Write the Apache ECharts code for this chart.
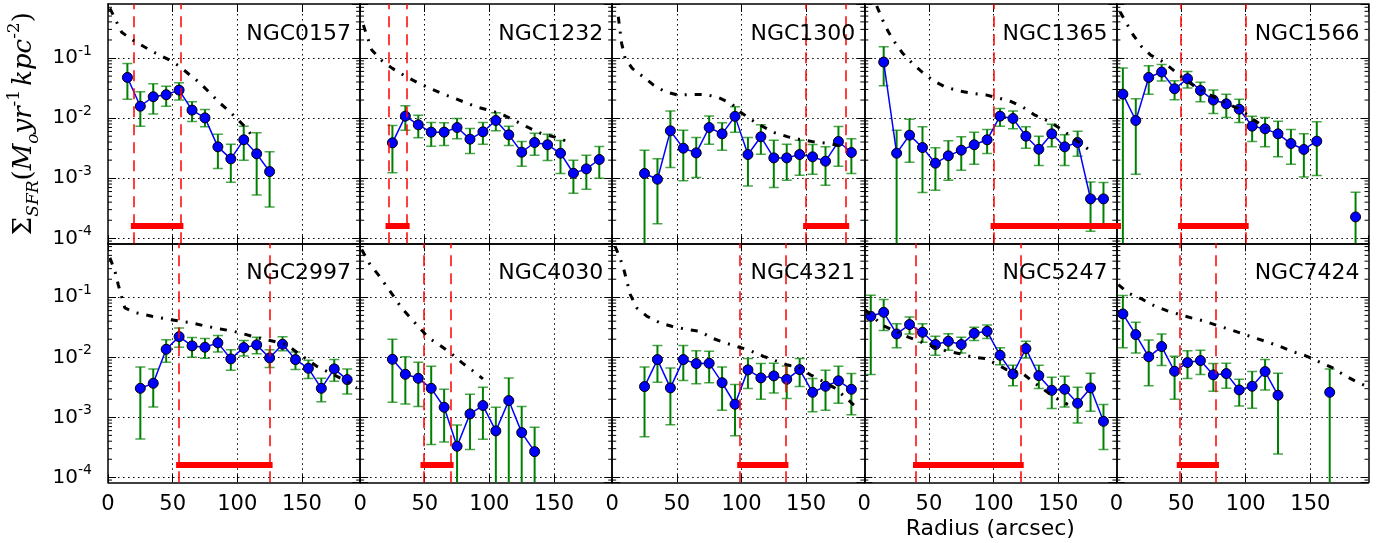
<!DOCTYPE html>
<html><head><meta charset="utf-8">
<script src="https://cdn.jsdelivr.net/npm/echarts@6/dist/echarts.min.js"></script>
<style>html,body{margin:0;padding:0;background:#fff}#c{width:1389px;height:543px}</style>
</head><body><div id="c"></div>
<script>
// ---------------- data ----------------
const names = ['NGC0157','NGC1232','NGC1300','NGC1365','NGC1566','NGC2997','NGC4030','NGC4321','NGC5247','NGC7424'];
const xTicks = [0, 50, 100, 150];
const minorMantissas = [2,3,4,5,6,7,8,9];
const minorDecades = [1e-5,1e-4,1e-3,1e-2,1e-1];

const r0157 = [15,25,35,45,55,65,75,85,95,105,115,125];
const s0157 = [4.76e-2,1.58e-2,2.27e-2,2.45e-2,2.93e-2,1.36e-2,1.01e-2,3.33e-3,2.10e-3,4.36e-3,2.55e-3,1.29e-3];
const hi0157 = [8.15e-2,2.75e-2,3.73e-2,3.41e-2,3.88e-2,1.87e-2,1.39e-2,5.41e-3,3.69e-3,7.36e-3,5.70e-3,2.75e-3];
const lo0157 = [2.07e-2,7.36e-3,1.17e-2,1.58e-2,2.0e-2,8.79e-3,7.18e-3,1.45e-3,8.57e-4,2.0e-3,5.27e-4,3.33e-4];

const r1232 = [25,35,45,55,65,75,85,95,105,115,125,135,145,155,165,175,185];
const s1232 = [3.88e-3,1.08e-2,7.74e-3,5.85e-3,5.85e-3,6.98e-3,4.47e-3,5.92e-3,9.14e-3,5.27e-3,2.71e-3,3.93e-3,3.60e-3,2.61e-3,1.21e-3,1.43e-3,2.05e-3];
const hi1232 = [7.55e-3,1.61e-2,1.12e-2,8.47e-3,8.36e-3,9.86e-3,6.73e-3,8.47e-3,1.23e-2,7.36e-3,4.08e-3,5.62e-3,5.41e-3,4.25e-3,2.0e-3,2.42e-3,3.37e-3];
const lo1232 = [1.23e-3,6.31e-3,4.70e-3,3.41e-3,3.50e-3,4.53e-3,2.58e-3,3.69e-3,6.15e-3,3.50e-3,1.58e-3,2.42e-3,1.97e-3,1.20e-3,5.62e-4,6.56e-4,1.0e-3];

const r1300 = [25,35,45,55,65,75,85,95,105,115,125,135,145,155,165,175,185];
const s1300 = [1.20e-3,9.62e-4,6.15e-3,3.16e-3,2.64e-3,6.98e-3,5.48e-3,1.07e-2,2.48e-3,4.89e-3,2.18e-3,2.18e-3,2.48e-3,2.27e-3,1.92e-3,4.08e-3,2.68e-3];
const hi1300 = [2.93e-3,2.10e-3,1.32e-2,6.31e-3,4.76e-3,1.09e-2,8.36e-3,1.55e-2,4.76e-3,7.74e-3,4.30e-3,3.69e-3,4.30e-3,3.64e-3,3.33e-3,7.26e-3,4.53e-3];
const lo1300 = [0,1.75e-4,1.51e-3,9.04e-4,1.03e-3,3.69e-3,2.93e-3,5.85e-3,7.45e-4,2.51e-3,6.98e-4,9.27e-4,1.12e-3,1.17e-3,7.64e-4,1.58e-3,1.20e-3];

const r1365 = [15,25,35,45,55,65,75,85,95,105,115,125,135,145,155,165,175,185];
const s1365 = [8.57e-2,2.61e-3,5.21e-3,3.24e-3,1.78e-3,2.36e-3,2.93e-3,3.60e-3,4.36e-3,1.08e-2,9.86e-3,5.01e-3,3.04e-3,5.48e-3,3.33e-3,3.93e-3,4.53e-4,4.53e-4];
const hi1365 = [1.54e-1,6.31e-3,9.62e-3,7.18e-3,3.21e-3,4.19e-3,4.89e-3,5.85e-3,6.47e-3,1.45e-2,1.32e-2,7.18e-3,5.01e-3,7.94e-3,5.27e-3,6.07e-3,8.69e-4,8.47e-4];
const lo1365 = [3.46e-2,0,1.85e-3,5.77e-4,6.31e-4,9.27e-4,1.36e-3,1.71e-3,2.58e-3,7.36e-3,6.64e-3,3.16e-3,1.63e-3,3.33e-3,1.63e-3,2.33e-3,1.31e-4,1.66e-4];

const r1566 = [5,15,25,35,45,55,65,75,85,95,105,115,125,135,145,155,165,175,185];
const s1566 = [2.51e-2,9.14e-3,4.76e-2,5.85e-2,3.08e-2,4.53e-2,2.89e-2,2.0e-2,1.73e-2,1.41e-2,7.36e-3,6.64e-3,5.48e-3,3.78e-3,3.01e-3,4.14e-3,null,null,2.27e-4];
const hi1566 = [6.81e-2,2.10e-2,7.45e-2,7.85e-2,4.19e-2,6.0e-2,3.94e-2,2.93e-2,2.51e-2,2.07e-2,1.08e-2,1.03e-2,8.91e-3,6.47e-3,5.48e-3,8.69e-3,null,null,5.85e-4];
const lo1566 = [0,1.17e-3,2.51e-2,4.14e-2,2.02e-2,3.16e-2,1.87e-2,1.20e-2,1.03e-2,8.47e-3,4.08e-3,3.33e-3,2.27e-3,1.71e-3,1.05e-3,1.11e-3,null,null,0];

const r2997 = [25,35,45,55,65,75,85,95,105,115,125,135,145,155,165,175,185];
const s2997 = [3.04e-3,3.69e-3,1.36e-2,2.21e-2,1.55e-2,1.47e-2,1.74e-2,9.40e-3,1.45e-2,1.61e-2,9.77e-3,1.65e-2,9.16e-3,6.56e-3,3.04e-3,6.41e-3,4.25e-3];
const hi2997 = [6.92e-3,6.41e-3,1.97e-2,3.09e-2,2.13e-2,2.05e-2,2.30e-2,1.33e-2,1.90e-2,2.15e-2,1.34e-2,2.19e-2,1.23e-2,8.91e-3,4.47e-3,9.16e-3,6.41e-3];
const lo2997 = [4.37e-4,1.49e-3,8.26e-3,1.47e-2,1.0e-2,9.62e-3,1.23e-2,6.07e-3,1.05e-2,1.15e-2,6.73e-3,1.28e-2,6.24e-3,4.42e-3,1.81e-3,3.98e-3,2.45e-3];

const r4030 = [25,35,45,55,65,75,85,95,105,115,125,135];
const s4030 = [9.27e-3,5.21e-3,4.47e-3,3.04e-3,1.47e-3,3.29e-4,1.14e-3,1.57e-3,5.93e-4,1.90e-3,5.56e-4,2.68e-4];
const hi4030 = [2.0e-2,1.02e-2,8.26e-3,7.08e-3,2.93e-3,7.46e-4,2.42e-3,3.16e-3,1.47e-3,4.54e-3,1.51e-3,6.81e-4];
const lo4030 = [1.78e-3,1.67e-3,1.51e-3,3.51e-4,3.89e-4,0,2.90e-4,4.30e-4,0,0,0,0];

const r4321 = [25,35,45,55,65,75,85,95,105,115,125,135,145,155,165,175,185];
const s4321 = [3.25e-3,9.16e-3,3.09e-3,9.16e-3,7.85e-3,7.94e-3,3.78e-3,1.65e-3,6.17e-3,4.54e-3,4.90e-3,4.30e-3,6.24e-3,2.61e-3,3.29e-3,4.05e-3,2.93e-3];
const hi4321 = [6.92e-3,1.58e-2,6.65e-3,1.58e-2,1.29e-2,1.26e-2,6.92e-3,3.51e-3,9.51e-3,7.85e-3,7.94e-3,7.19e-3,9.51e-3,4.42e-3,6.07e-3,7.08e-3,5.35e-3];
const lo4321 = [4.76e-4,3.83e-3,7.55e-4,4.09e-3,3.61e-3,3.78e-3,1.31e-3,4.95e-4,3.01e-3,2.0e-3,2.55e-3,2.05e-3,3.25e-3,1.24e-3,1.31e-3,1.71e-3,1.10e-3];

const r5247 = [5,15,25,35,45,55,65,75,85,95,105,115,125,135,145,155,165,175,185];
const s5247 = [4.82e-2,5.62e-2,2.45e-2,3.51e-2,2.61e-2,1.63e-2,1.85e-2,1.63e-2,2.51e-2,2.71e-2,1.08e-2,5.28e-3,1.40e-2,4.95e-3,2.82e-3,2.93e-3,1.71e-3,3.09e-3,8.57e-4];
const hi5247 = [1.08e-1,9.16e-2,3.61e-2,4.71e-2,3.61e-2,2.24e-2,2.48e-2,2.15e-2,3.16e-2,3.47e-2,1.44e-2,7.36e-3,1.85e-2,7.36e-3,4.65e-3,4.82e-3,3.16e-3,5.41e-3,1.63e-3];
const lo5247 = [5.15e-3,2.79e-2,1.44e-2,2.45e-2,1.78e-2,1.08e-2,1.31e-2,1.18e-2,1.90e-2,2.05e-2,7.55e-3,3.37e-3,9.77e-3,3.01e-3,1.40e-3,1.49e-3,8.07e-4,1.26e-3,2.90e-4];

const r7424 = [5,15,25,35,45,55,65,75,85,95,105,115,125,135,145,155,165];
const s7424 = [5.28e-2,2.39e-2,1.02e-2,1.51e-2,5.85e-3,8.17e-3,8.81e-3,5.09e-3,5.35e-3,2.86e-3,3.29e-3,5.78e-3,2.33e-3,null,null,null,2.61e-3];
const hi7424 = [1.07e-1,3.83e-2,1.95e-2,2.45e-2,1.04e-2,1.29e-2,1.31e-2,7.85e-3,7.94e-3,4.30e-3,5.78e-3,9.16e-3,5.41e-3,null,null,null,6.41e-3];
const lo7424 = [1.44e-2,1.18e-2,3.37e-3,7.28e-3,2.0e-3,4.42e-3,5.15e-3,2.71e-3,3.04e-3,1.55e-3,1.41e-3,2.86e-3,2.45e-4,null,null,null,0];

// model curves (radius, SFR density)
const m0157 = [[1.5,6.73e-1],[10.6,2.68e-1],[19,2.0e-1],[28,1.54e-1],[37,1.20e-1],[46.6,9.5e-2],[55,7.36e-2],[63.4,5.21e-2],[71,3.87e-2],[79,2.61e-2],[86.6,1.78e-2],[94.4,1.27e-2],[101.6,8.91e-3],[107.3,6.73e-3],[113.7,4.30e-3]];
const m1232 = [[2.5,3.55e-1],[9,1.36e-1],[17,9.0e-2],[25,6.73e-2],[35,5.01e-2],[44,3.94e-2],[53,3.2e-2],[63,2.58e-2],[72,2.18e-2],[82,1.8e-2],[91,1.51e-2],[102,1.32e-2],[111,1.12e-2],[120,9.02e-3],[130,7.0e-3],[140,5.56e-3],[150,4.88e-3],[160,4.14e-3]];
const m1300 = [[4.7,4.88e-1],[7.3,1.76e-1],[10,9.9e-2],[15.5,6.73e-2],[24,4.88e-2],[32,3.55e-2],[41,2.74e-2],[51,2.42e-2],[61.5,2.48e-2],[72,2.48e-2],[82,2.21e-2],[92,1.76e-2],[99,1.27e-2],[108,9.27e-3],[117,7.16e-3],[126,5.69e-3],[136,4.88e-3],[145,4.42e-3],[156,4.03e-3],[168,3.78e-3],[180,3.33e-3]];
const m1365 = [[9.6,7.36e-1],[14.2,4.30e-1],[18.6,2.74e-1],[23.8,1.8e-1],[29.7,1.2e-1],[36.7,8.36e-2],[44.4,5.92e-2],[53.4,4.19e-2],[62.4,3.33e-2],[72.7,2.85e-2],[84.3,2.58e-2],[94.7,2.42e-2],[105,2.13e-2],[114,1.87e-2],[123,1.51e-2],[132,1.12e-2],[142,9.02e-3],[151.5,6.73e-3],[160.5,4.88e-3],[168,3.69e-3],[176,2.74e-3]];
const m1566 = [[2.8,5.92e-1],[7.9,3.78e-1],[13,2.42e-1],[19.6,1.54e-1],[26.5,1.12e-1],[36,8.67e-2],[44,6.31e-2],[52,4.59e-2],[61,3.33e-2],[70,2.58e-2],[79,2.05e-2],[88,1.65e-2],[97,1.36e-2],[103,1.05e-2],[116,6.73e-3]];
const m2997 = [[1.5,4.54e-1],[5.4,2.71e-1],[7.9,1.63e-1],[13,6.65e-2],[22,5.5e-2],[34,4.82e-2],[45,4.37e-2],[56,3.98e-2],[65,3.74e-2],[76,3.29e-2],[87,2.97e-2],[97,2.71e-2],[107,2.39e-2],[116,2.1e-2],[128,1.85e-2],[138,1.63e-2],[148.5,1.11e-2],[161.5,7.08e-3],[171.7,5.5e-3],[184.6,3.98e-3],[192.4,3.09e-3]];
const m4030 = [[1.2,6.24e-1],[7.7,3.51e-1],[14,2.39e-1],[20,1.58e-1],[26,1.04e-1],[32,6.65e-2],[39,4.54e-2],[46,3.09e-2],[53,2.1e-2],[61,1.63e-2],[70,1.18e-2],[79,8.07e-3],[87,6.0e-3],[95,4.37e-3]];
const m4321 = [[2.2,7.08e-1],[6,4.54e-1],[9,2.9e-1],[14,1.11e-1],[19,6.65e-2],[27,4.82e-2],[37,3.74e-2],[46,3.29e-2],[58,2.9e-2],[68,2.71e-2],[77,2.1e-2],[86,1.78e-2],[96,1.52e-2],[105,1.34e-2],[117,1.04e-2],[126,8.81e-3],[135,7.55e-3],[145,6.65e-3],[153,5.15e-3],[163,3.98e-3],[172,3.09e-3],[181,2.1e-3],[188,1.52e-3]];
const m5247 = [[0.5,6.24e-2],[14,3.41e-2],[34.5,2.15e-2],[53,1.52e-2],[64,1.26e-2],[74,1.15e-2],[84,1.0e-2],[94,9.51e-3],[102,7.76e-3],[110,6.24e-3],[122,5.5e-3],[130,3.98e-3],[137,3.09e-3],[148,2.1e-3],[157.5,1.63e-3]];
const m7424 = [[1.5,1.63e-1],[9,1.18e-1],[19.5,9.4e-2],[30,7.08e-2],[39,6.0e-2],[49,5.15e-2],[58,4.54e-2],[68.5,3.98e-2],[77.6,3.41e-2],[88,2.9e-2],[98,2.45e-2],[107,2.1e-2],[117.5,1.78e-2],[126.5,1.52e-2],[137,1.23e-2],[146,1.07e-2],[156,8.57e-3],[166.5,6.81e-3],[175.5,5.15e-3],[185,3.98e-3],[192,3.41e-3]];

// red marked radial ranges (dashed lines + bar)
const ranges = [[20,56],[22,36],[150,181],[100,220],[50,100],[55,125],[49,70],[99,134],[40,121],[49,77]];
const barLevel = 1.6e-4;

// ---------------- layout & style ----------------
const X_MAX = 195, Y_MIN = 8.26e-5, Y_MAX = 0.794;
const LEFT0 = 108, PW = 252.1, TOPS = [4, 243.3], HS = [239.3, 239];
const SANS = 'DejaVu Sans', SERIF = 'DejaVu Serif';
const GREEN = '#008000', BLUE = '#0000ff', RED = '#ff0000';

const galaxies = [
  {r:r0157,s:s0157,hi:hi0157,lo:lo0157,m:m0157},
  {r:r1232,s:s1232,hi:hi1232,lo:lo1232,m:m1232},
  {r:r1300,s:s1300,hi:hi1300,lo:lo1300,m:m1300},
  {r:r1365,s:s1365,hi:hi1365,lo:lo1365,m:m1365},
  {r:r1566,s:s1566,hi:hi1566,lo:lo1566,m:m1566},
  {r:r2997,s:s2997,hi:hi2997,lo:lo2997,m:m2997},
  {r:r4030,s:s4030,hi:hi4030,lo:lo4030,m:m4030},
  {r:r4321,s:s4321,hi:hi4321,lo:lo4321,m:m4321},
  {r:r5247,s:s5247,hi:hi5247,lo:lo5247,m:m5247},
  {r:r7424,s:s7424,hi:hi7424,lo:lo7424,m:m7424}
];

const minorTickValues = [];
minorDecades.forEach(d => minorMantissas.forEach(m => minorTickValues.push([0, m * d])));

const frame = {show:true, onZero:false, lineStyle:{color:'#000', width:1.5}};
const tick = {show:true, inside:true, length:8, lineStyle:{color:'#000', width:1}};
const gridLine = {show:true, showMinLine:false, showMaxLine:false, lineStyle:{color:'#000', width:1, type:[1.5,3.5]}};

function yFmt(v) {
  const e = Math.log10(v), k = Math.round(e);
  if (Math.abs(e - k) > 1e-6) return '';
  return '{b|10}{s|' + k + '}';
}
const yRich = {
  b:{fontFamily:SANS, fontSize:20, lineHeight:28, color:'#000', verticalAlign:'middle'},
  s:{fontFamily:SANS, fontSize:14, lineHeight:14, color:'#000', verticalAlign:'top'}
};

function renderErr(params, api) {
  const x = api.value(0), lo = api.value(1), hi = api.value(2);
  const cs = params.coordSys;
  const pHi = api.coord([x, hi]);
  const cx = pHi[0];
  const yLo = lo > 0 ? api.coord([x, lo])[1] : cs.y + cs.height + 5;
  const hw = 5;
  const bar = {stroke:GREEN, lineWidth:2};
  const cap = {stroke:GREEN, lineWidth:1.5, opacity:0.7};
  const children = [
    {type:'line', shape:{x1:cx, y1:yLo, x2:cx, y2:pHi[1]}, style:bar},
    {type:'line', shape:{x1:cx-hw, y1:pHi[1], x2:cx+hw, y2:pHi[1]}, style:cap}
  ];
  if (lo > 0) children.push({type:'line', shape:{x1:cx-hw, y1:yLo, x2:cx+hw, y2:yLo}, style:cap});
  return {type:'group', children};
}

function renderMinor(params, api) {
  const cs = params.coordSys;
  const y = api.coord([0, api.value(1)])[1];
  if (!(y > cs.y + 1 && y < cs.y + cs.height - 1)) return {type:'group', children:[]};
  const st = {stroke:'#000', lineWidth:1};
  return {type:'group', children:[
    {type:'line', shape:{x1:cs.x, y1:y, x2:cs.x + 4, y2:y}, style:st},
    {type:'line', shape:{x1:cs.x + cs.width - 4, y1:y, x2:cs.x + cs.width, y2:y}, style:st}
  ]};
}

const grids = [], xAxes = [], yAxes = [], series = [], titles = [];
galaxies.forEach((g, i) => {
  const row = Math.floor(i / 5), col = i % 5;
  const left = LEFT0 + col * PW, top = TOPS[row];
  grids.push({left, top, width:PW, height:HS[row], show:false, containLabel:false, outerBoundsMode:'none'});

  const xb = {type:'value', gridIndex:i, position:'bottom', min:0, max:X_MAX, interval:50,
    axisLine:frame, axisTick:tick,
    axisLabel:{show:row === 1, color:'#000', fontFamily:SANS, fontSize:21, margin:12, showMaxLabel:false,
      formatter: v => (xTicks.indexOf(v) >= 0 ? String(v) : '')},
    splitLine:gridLine};
  if (i === 8) {
    Object.assign(xb, {name:'Radius (arcsec)', nameLocation:'middle', nameGap:34,
      nameTextStyle:{fontFamily:SANS, fontSize:22, color:'#000', lineHeight:26}});
  }
  xAxes.push(xb);
  xAxes.push({type:'value', gridIndex:i, position:'top', min:0, max:X_MAX, interval:50,
    axisLine:frame, axisTick:tick, axisLabel:{show:false}, splitLine:{show:false}});

  const yl = {type:'log', logBase:10, gridIndex:i, position:'left', min:Y_MIN, max:Y_MAX,
    axisLine:frame, axisTick:tick, minorTick:{show:false},
    axisLabel:{show:col === 0, formatter:yFmt, rich:yRich, margin:16, showMinLabel:false, showMaxLabel:false},
    splitLine:gridLine};
  if (i === 0) {
    Object.assign(yl, {
      name:'{n|Σ}{sub|SFR}{n|(}{i|M}{sub|o}{i|yr}{sup|-1}{k|kpc}{sup|-2}{n|)}',
      nameLocation:'middle', nameRotate:90, nameGap:66,
      nameTextStyle:{rich:{
        n:{fontFamily:SERIF, fontSize:26, lineHeight:36, color:'#000', verticalAlign:'middle'},
        i:{fontFamily:SERIF, fontStyle:'italic', fontSize:26, lineHeight:36, color:'#000', verticalAlign:'middle'},
        k:{fontFamily:SERIF, fontStyle:'italic', fontSize:26, lineHeight:36, color:'#000', verticalAlign:'middle', padding:[0,0,0,4]},
        sub:{fontFamily:SERIF, fontStyle:'italic', fontSize:17, lineHeight:17, color:'#000', verticalAlign:'bottom'},
        sup:{fontFamily:SERIF, fontSize:17, lineHeight:17, color:'#000', verticalAlign:'top'}
      }}
    });
  }
  yAxes.push(yl);
  yAxes.push({type:'log', logBase:10, gridIndex:i, position:'right', min:Y_MIN, max:Y_MAX,
    axisLine:frame, axisTick:tick, minorTick:{show:false},
    axisLabel:{show:false}, splitLine:{show:false}});

  const xi = 2 * i, yi = 2 * i;

  series.push({type:'custom', xAxisIndex:xi, yAxisIndex:yi, silent:true, z:1,
    renderItem:renderMinor, encode:{x:0, y:1}, data:minorTickValues});

  const errData = [];
  g.r.forEach((r, k) => { if (g.s[k] !== null) errData.push([r, g.lo[k], g.hi[k]]); });
  series.push({type:'custom', xAxisIndex:xi, yAxisIndex:yi, clip:true, silent:true, z:2,
    renderItem:renderErr, encode:{x:0, y:2}, data:errData});

  const rg = ranges[i];
  series.push({type:'line', xAxisIndex:xi, yAxisIndex:yi, clip:true, silent:true, z:3,
    symbol:'none', data:[[rg[0], barLevel], [rg[1], barLevel]],
    lineStyle:{color:RED, width:6, cap:'square'},
    markLine:{silent:true, symbol:['none','none'], label:{show:false},
      lineStyle:{color:RED, width:1.5, type:[11,7]},
      data:rg.filter(v => v <= X_MAX).map(v => ({xAxis:v}))}});

  series.push({type:'line', xAxisIndex:xi, yAxisIndex:yi, silent:true, z:4,
    data:g.r.map((r, k) => [r, g.s[k] === null ? '-' : g.s[k]]),
    connectNulls:false, symbol:'circle', symbolSize:10, showSymbol:true,
    lineStyle:{color:BLUE, width:1.5},
    itemStyle:{color:BLUE, borderColor:'#000', borderWidth:1}});

  series.push({type:'line', xAxisIndex:xi, yAxisIndex:yi, clip:true, silent:true, z:5,
    data:g.m, symbol:'none', showSymbol:false,
    lineStyle:{color:'#000', width:3, type:[7,8,2,8]}});

  titles.push({text:names[i], right:1389 - (left + PW) + 9, top:top + 18, padding:0,
    textStyle:{fontFamily:SANS, fontSize:22, fontWeight:'normal', color:'#000', lineHeight:24}});
});

const chart = echarts.init(document.getElementById('c'), null, {renderer:'canvas'});
chart.setOption({
  animation:false,
  backgroundColor:'#fff',
  title:titles,
  grid:grids,
  xAxis:xAxes,
  yAxis:yAxes,
  series:series
});
</script>
</body></html>
